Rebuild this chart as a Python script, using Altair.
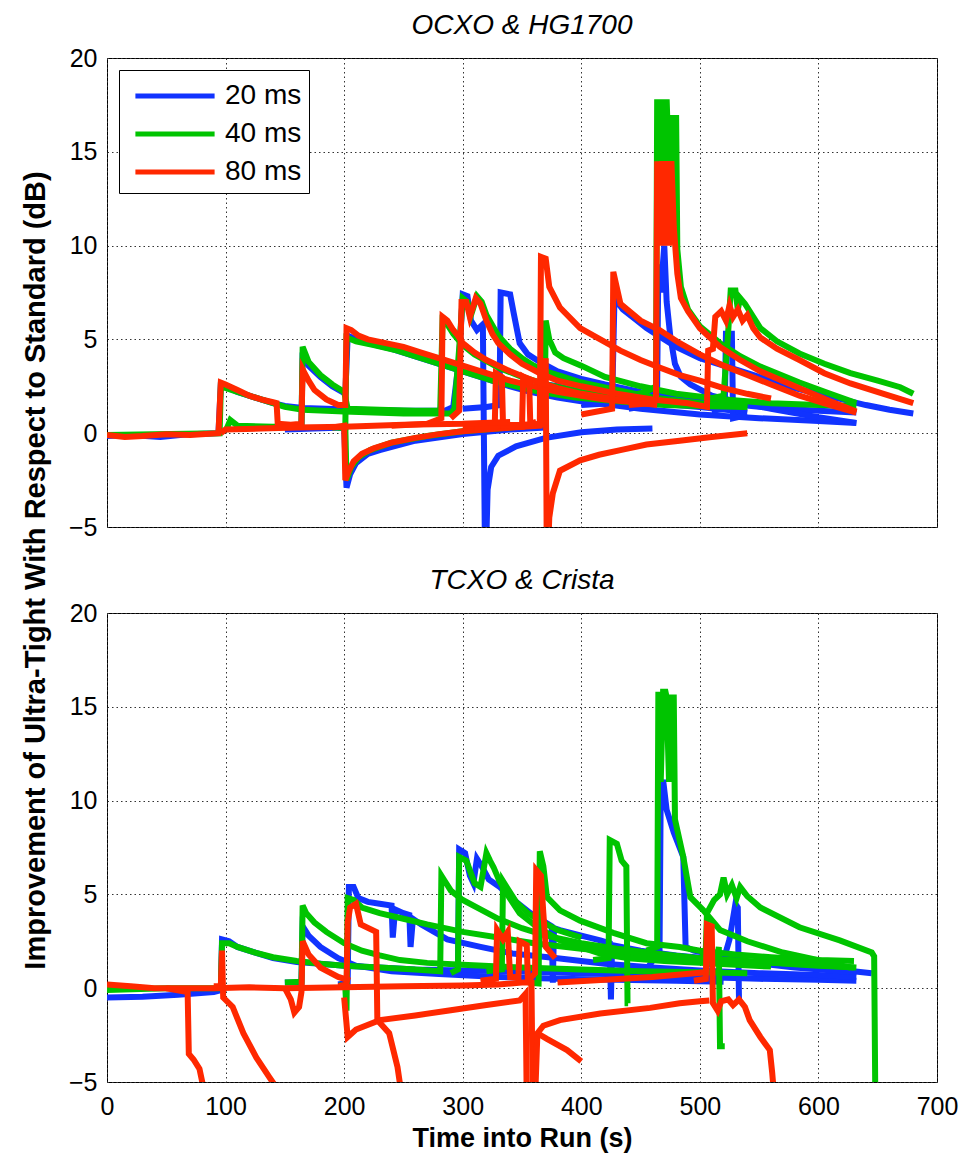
import altair as alt
import pandas as pd

FONT = "Liberation Sans"
LABELS = ["20 ms", "40 ms", "80 ms"]
COLORS = ["#1133FF", "#00C400", "#FF2800"]
X_TICKS = [0, 100, 200, 300, 400, 500, 600, 700]
Y_TICKS = [-5, 0, 5, 10, 15, 20]

# ---------------- Top panel: OCXO & HG1700 ----------------
TOP_20_A = [(0,-0.15),(20,-0.1),(45,-0.2),(70,-0.05),(94,0.0),(96,2.6),(100,2.5),(110,2.2),(125,1.9),(140,1.6),(150,1.45),(165,1.35),(185,1.3),(210,1.25),(250,1.2),(285,1.2),(292,1.4),(297,4.0),(300,7.4),(304,7.3),(307,6.0),(312,5.5),(317,5.8),(319,-8.0),(321,-3.0),(324,-1.8),(330,-1.2),(345,-0.7),(370,-0.25),(400,0.05),(430,0.2),(460,0.25)]
TOP_20_B = [(150,0.3),(164,0.35),(165,4.3),(170,3.6),(180,3.0),(190,2.5),(201,2.1),(203,5.2),(210,5.0),(220,4.8),(240,4.5),(260,4.1),(280,3.7),(300,3.3),(320,2.9),(340,2.5),(357,2.2),(380,1.9),(400,1.7),(420,1.55),(450,1.3),(500,1.0),(550,0.8),(600,0.65),(632,0.55)]
TOP_20_C = [(150,0.2),(200,0.3),(202,-2.9),(205,-2.2),(210,-1.6),(220,-1.1),(230,-0.9),(260,-0.4),(300,-0.05),(340,0.2),(368,0.3),(370,2.6),(380,2.5),(400,2.2),(420,2.0),(450,1.7),(480,1.5),(500,1.4),(530,1.2),(540,1.1)]
TOP_20_D = [(300,1.3),(320,1.4),(331,1.5),(332,7.5),(340,7.4),(343,6.4),(348,4.8),(355,4.2),(365,3.8),(380,3.3),(400,2.9),(420,2.6),(450,2.2),(480,1.9),(520,1.6),(560,1.35),(600,1.2),(632,1.1)]
TOP_20_E = [(400,1.5),(426,1.6),(428,7.2),(435,6.6),(445,6.1),(455,5.6),(465,5.2),(480,4.6),(500,4.0),(520,3.6),(540,3.2),(560,2.8),(580,2.4),(600,2.1),(620,1.8),(640,1.5),(660,1.25),(680,1.05)]
TOP_20_F = [(440,1.3),(458,1.5),(464,2.5),(465,9.0),(467,7.5),(470,10.0),(472,7.0),(475,5.2),(479,3.7),(484,3.0),(492,2.6),(510,2.0),(530,1.7),(560,1.3),(600,0.85),(632,0.55)]
TOP_20_G = [(510,1.2),(521,1.3),(522,5.3),(527,5.3),(528,0.8),(535,0.9),(540,1.0)]

TOP_40_A = [(0,-0.1),(40,-0.05),(95,0.0),(96,2.5),(110,2.2),(130,1.8),(150,1.4),(165,1.25),(200,1.15),(250,1.05),(290,1.05),(293,1.3),(297,4.5),(300,7.2),(304,7.0),(307,6.3),(312,7.3),(316,7.0),(320,6.3),(330,5.2),(340,4.5),(350,4.0),(360,3.6),(370,3.3),(385,3.0),(400,2.7),(430,2.3),(460,1.9),(500,1.6),(540,1.4)]
TOP_40_B = [(100,0.1),(104,0.7),(110,0.4),(140,0.35),(164,0.4),(165,4.6),(170,3.8),(180,3.1),(190,2.6),(200,2.2),(203,1.3),(230,1.25),(260,1.2),(281,1.2),(283,6.0),(287,5.8),(292,5.3),(300,4.7),(310,4.2),(330,3.5),(350,3.0),(370,2.6),(400,2.2),(430,1.9),(460,1.7),(500,1.55),(540,1.5)]
TOP_40_C = [(190,0.3),(201,0.3),(202,5.1),(210,4.9),(225,4.7),(245,4.4),(265,4.0),(285,3.6),(305,3.2),(325,2.8),(345,2.5),(365,2.2),(395,1.9),(430,1.7),(470,1.5),(500,1.45),(540,1.4)]
TOP_40_D = [(195,0.3),(201,0.3),(202,-2.5),(206,-1.8),(212,-1.3),(222,-0.9),(240,-0.5),(270,-0.15),(300,0.1),(340,0.3),(369,0.5),(370,6.0),(373,5.0),(378,4.3),(385,4.0),(400,3.6),(420,3.0),(450,2.5),(480,2.1),(520,1.8),(560,1.6),(600,1.5),(632,1.45)]
TOP_40_E = [(440,2.0),(455,2.2),(463,2.5),(464,17.8),(466,12.5),(468,17.8),(470,12.5),(472,17.8),(472.5,16.8),(475,11.0),(477,16.8),(480,16.8),(481,9.8),(484,7.8),(490,6.6),(500,5.7),(517,4.8),(534,4.1),(551,3.55),(584,2.7),(610,2.1),(632,1.6)]
TOP_40_F = [(505,1.8),(520,2.0),(524,5.5),(526,7.6),(530,7.6),(532,6.6),(534,7.2),(538,6.9),(545,6.2),(551,5.6),(565,4.9),(584,4.25),(605,3.7),(627,3.2),(650,2.8),(669,2.45),(680,2.1)]

TOP_80_A = [(0,-0.1),(15,-0.2),(30,-0.15),(50,-0.05),(70,-0.1),(94,0.0),(96,2.7),(100,2.6),(110,2.3),(120,2.0),(130,1.8),(140,1.65),(143,1.6),(144,0.5),(155,0.45),(164,0.5),(165,3.4),(170,2.8),(175,2.3),(185,1.8),(195,1.5),(201,1.5),(202,5.6),(206,5.5),(212,5.2),(220,5.0),(235,4.8),(250,4.6),(265,4.3),(280,4.0),(300,3.6),(320,3.2),(340,2.8),(360,2.5),(380,2.2),(400,2.0),(420,1.8),(445,1.65),(464,1.5)]
TOP_80_B = [(190,0.3),(200,0.4),(201,-2.5),(204,-2.0),(208,-1.5),(215,-1.1),(225,-0.8),(240,-0.5),(260,-0.25),(280,-0.05),(300,0.1),(330,0.25),(365,0.4),(366,9.4),(370,9.3),(373,7.8),(382,6.7),(399,5.6),(416,5.0),(433,4.4),(450,3.9),(466,3.5),(483,3.1),(500,2.8),(520,2.4),(540,2.1),(560,1.85)]
TOP_80_C = [(300,0.4),(350,0.45),(369,0.5),(370,4.0),(371,-8.0),(373,-4.5),(376,-3.2),(382,-2.0),(399,-1.45),(415,-1.15),(433,-0.9),(455,-0.6),(483,-0.4),(510,-0.2),(540,0.0)]
TOP_80_D = [(240,0.4),(270,0.5),(282,0.8),(283,6.2),(287,6.0),(292,5.5),(296,5.2),(300,4.8),(310,4.3),(320,3.9),(340,3.3),(360,2.8),(380,2.4),(400,2.1),(430,1.8),(460,1.55)]
TOP_80_E = [(290,0.8),(297,1.2),(299,7.0),(303,7.0),(306,6.2),(311,7.2),(315,6.9),(320,6.0),(325,5.3),(330,4.8),(340,4.2),(350,3.7),(365,3.2),(380,2.8),(400,2.5),(430,2.1),(460,1.8),(490,1.6),(506,1.4),(507,4.4),(511,4.5),(513,6.2),(518,6.5),(522,6.0),(525,6.8),(528,6.2),(532,6.6),(536,6.0),(540,6.3),(545,5.6),(551,5.1),(565,4.5),(584,3.9),(605,3.2),(627,2.65),(655,2.1),(680,1.6)]
TOP_80_F = [(310,0.3),(327,0.3),(328,3.2),(333,3.0),(334,0.4),(350,0.35),(351,3.0),(356,2.8),(357,0.5),(362,0.6)]
TOP_80_G = [(400,1.0),(426,1.3),(427,8.6),(433,6.9),(450,6.0),(466,5.5),(483,4.8),(500,4.2),(520,3.6),(540,3.1),(560,2.6),(584,2.0),(610,1.5),(632,1.1)]
TOP_80_H = [(440,1.5),(460,1.6),(463,1.8),(464,14.5),(466,10.0),(468,14.5),(470,10.0),(472,14.5),(474,10.0),(476,14.5),(478,11.0),(481,8.5),(484,7.2),(490,6.5),(500,5.6),(517,4.6),(534,3.9),(551,3.3),(584,2.4),(610,1.7),(632,1.15)]
TOP_80_I = [(96,0.0),(100,0.2),(130,0.25),(160,0.3),(200,0.35),(250,0.45),(300,0.5),(340,0.6)]

# ---------------- Bottom panel: TCXO & Crista ----------------
BOT_20_A = [(0,-0.5),(30,-0.45),(60,-0.35),(90,-0.2),(96,-0.1),(97,2.6),(103,2.5),(110,2.2),(125,1.9),(140,1.6),(160,1.4),(180,1.3),(200,1.2),(230,1.1),(260,1.0),(300,0.95),(340,0.9),(400,0.8),(450,0.7),(500,0.6),(550,0.5),(600,0.45),(632,0.4)]
BOT_20_B = [(150,0.3),(164,0.3),(165,3.3),(170,2.8),(180,2.2),(195,1.6),(210,1.2),(240,0.9),(280,0.75),(330,0.6),(380,0.5),(430,0.45),(480,0.4),(520,0.35)]
BOT_20_C = [(195,0.2),(203,0.3),(204,5.4),(208,5.4),(212,4.8),(220,4.6),(230,4.5),(240,4.4),(241,2.7),(243,4.2),(250,4.0),(255,3.9),(256,2.2),(258,3.7),(265,3.4),(287,2.6),(315,2.2),(342,1.85),(380,1.6),(420,1.3),(460,1.1),(500,0.95),(550,0.8),(600,0.7),(632,0.6)]
BOT_20_D = [(290,0.9),(296,1.0),(297,7.4),(302,7.2),(306,6.0),(309,5.6),(312,6.9),(316,6.5),(322,5.8),(331,5.4),(345,4.6),(357,4.0),(370,3.5),(375,3.3),(376,0.3),(377,3.2),(382,3.1),(400,2.8),(416,2.55),(424,2.4),(425,-0.6),(426,2.3),(450,2.0),(480,1.75),(520,1.5),(560,1.3),(600,1.1),(645,0.8)]
BOT_20_E = [(455,1.0),(466,2.0),(467,10.5),(469,11.1),(472,9.5),(478,8.3),(486,7.0),(488,2.2),(495,2.0),(510,1.8),(540,1.4),(580,1.1),(620,0.9),(632,0.85)]
BOT_20_F = [(505,1.2),(520,1.5),(525,2.6),(530,4.5),(532,4.3),(533,-0.6),(535,-0.6)]

BOT_40_A = [(0,-0.1),(50,0.0),(96,0.0),(97,2.4),(103,2.4),(110,2.2),(125,1.9),(140,1.65),(160,1.45),(180,1.3),(200,1.2),(230,1.1),(260,1.0),(281,0.9),(282,6.0),(285,5.7),(290,5.2),(300,4.7),(315,4.2),(330,3.7),(350,3.2),(370,2.8),(400,2.4),(430,2.1),(470,1.8),(500,1.6),(540,1.45),(580,1.3),(610,1.2),(630,1.1)]
BOT_40_B = [(150,0.3),(164,0.35),(165,4.4),(168,4.0),(175,3.5),(185,3.0),(200,2.4),(215,2.0),(230,1.75),(247,1.5),(270,1.35),(300,1.25),(350,1.1),(400,1.0),(450,0.9),(500,0.85),(540,0.8)]
BOT_40_C = [(195,0.2),(201,0.0),(202,-1.2),(203,4.8),(208,4.7),(215,4.3),(230,4.0),(250,3.7),(270,3.4),(300,3.0),(330,2.7),(360,2.4),(400,2.1),(450,1.8),(480,1.65),(520,1.5),(560,1.35),(600,1.2),(632,1.1)]
BOT_40_D = [(290,0.8),(296,1.0),(297,7.0),(303,6.8),(310,5.6),(315,5.4),(320,7.2),(323,6.8),(326,6.45),(331,5.7),(337,5.05),(348,4.0),(363,3.25),(382,2.55),(416,1.85),(440,1.6),(470,1.45),(500,1.35),(530,1.25),(560,1.15)]
BOT_40_E = [(320,0.9),(333,1.0),(334,5.7),(338,5.3),(345,4.6),(355,4.0),(365,3.6),(380,3.1),(400,2.7)]
BOT_40_F = [(355,0.3),(364,0.25),(365,7.3),(368,6.5),(371,4.85),(382,4.15),(399,3.6),(427,2.95),(455,2.4),(483,2.2),(500,2.0),(530,1.8),(560,1.65),(600,1.5),(630,1.45)]
BOT_40_G = [(410,1.5),(423,1.6),(424,7.9),(430,7.7),(434,6.8),(438,6.5),(439,-0.8),(439.5,-0.8)]
BOT_40_H = [(455,2.0),(464,2.2),(465,15.8),(467,11.0),(469,15.8),(471,15.8),(472,15.5),(474,11.0),(476,15.5),(478,15.5),(479,9.0),(486,7.0),(492,4.85),(503,4.15),(517,3.1),(540,2.5),(570,1.9),(600,1.5),(627,1.1)]
BOT_40_I = [(500,1.8),(505,2.0),(506,4.0),(512,4.7),(517,5.0),(520,5.9),(523,5.0),(527,5.5),(531,4.8),(534,5.4),(540,4.9),(551,4.3),(584,3.25),(618,2.55),(645,1.9),(647,1.7),(648,-6.0)]
BOT_40_J = [(505,1.5),(515,1.8),(516,2.2),(517,-3.1),(521,-3.1)]

BOT_80_A = [(0,0.2),(20,0.1),(40,0.0),(68,0.0),(90,0.0),(120,0.05),(150,0.0),(200,0.05),(250,0.1),(300,0.15),(330,0.2),(350,0.3),(358,0.3),(359,-6.0)]
BOT_80_B = [(50,0.0),(68,-0.2),(69,-3.5),(73,-3.8),(78,-4.3),(82,-5.5)]
BOT_80_C = [(90,0.1),(96,0.1),(97,2.0),(98,-0.5),(106,-1.0),(115,-2.4),(126,-3.7),(137,-4.75),(145,-5.5)]
BOT_80_D = [(150,0.0),(155,-0.6),(158,-1.3),(162,-1.0),(164,-0.2),(165,2.5),(170,1.8),(180,1.1),(195,0.6),(205,0.4)]
BOT_80_E = [(195,0.1),(202,0.2),(203,3.5),(205,4.3),(210,4.5),(214,3.4),(227,3.0),(228,-1.7),(238,-2.4),(245,-4.2),(248,-5.5)]
BOT_80_F = [(200,-0.5),(203,-2.6),(210,-2.2),(230,-1.7),(260,-1.45),(287,-1.2),(320,-0.9),(348,-0.65),(353,-0.3),(354,-6.0)]
BOT_80_G = [(361,-6.0),(363,-2.4),(368,-2.0),(382,-1.7),(416,-1.35),(458,-1.05),(483,-0.8),(500,-0.7),(508,-0.65)]
BOT_80_H = [(363,-2.4),(371,-2.7),(388,-3.3),(400,-3.9)]
BOT_80_I = [(315,0.4),(328,0.5),(329,3.1),(334,2.6),(338,3.0),(340,0.6),(347,0.6),(348,2.5),(354,2.3),(355,0.4)]
BOT_80_J = [(355,0.4),(361,0.8),(362,6.3),(366,6.0),(368,4.0),(370,2.2),(378,1.6)]
BOT_80_K = [(495,0.4),(505,0.5),(506,3.4),(510,3.3),(511,-0.8),(515,-1.2),(518,-0.7),(524,-0.6),(528,-0.9),(533,-0.6),(538,-1.0),(542,-1.7),(551,-2.6),(559,-3.3),(561,-4.5),(563,-6.0)]
BOT_80_L = [(380,0.3),(420,0.45),(460,0.6),(505,0.85)]

PANELS = {
    "top": {
        "20 ms": [TOP_20_A, TOP_20_B, TOP_20_C, TOP_20_D, TOP_20_E, TOP_20_F, TOP_20_G],
        "40 ms": [TOP_40_A, TOP_40_B, TOP_40_C, TOP_40_D, TOP_40_E, TOP_40_F],
        "80 ms": [TOP_80_A, TOP_80_B, TOP_80_C, TOP_80_D, TOP_80_E, TOP_80_F, TOP_80_G, TOP_80_H, TOP_80_I],
    },
    "bottom": {
        "20 ms": [BOT_20_A, BOT_20_B, BOT_20_C, BOT_20_D, BOT_20_E, BOT_20_F],
        "40 ms": [BOT_40_A, BOT_40_B, BOT_40_C, BOT_40_D, BOT_40_E, BOT_40_F, BOT_40_G, BOT_40_H, BOT_40_I, BOT_40_J],
        "80 ms": [BOT_80_A, BOT_80_B, BOT_80_C, BOT_80_D, BOT_80_E, BOT_80_F, BOT_80_G, BOT_80_H, BOT_80_I, BOT_80_J, BOT_80_K, BOT_80_L],
    },
}


def frame_for(panel):
    rows = []
    for ms, segs in PANELS[panel].items():
        for si, seg in enumerate(segs):
            for i, (t, v) in enumerate(seg):
                rows.append({"ms": ms, "seg": f"{ms}-{si}", "i": i, "t": t, "v": v})
    return pd.DataFrame(rows)


GRID = dict(grid=True, gridDash=[1.5, 3], gridColor="#333333", gridOpacity=1, gridWidth=1,
            ticks=False, domain=False)


def panel(name, title, bottom):
    df = frame_for(name)
    if bottom:
        xaxis = alt.Axis(values=X_TICKS, labels=True, labelFont=FONT, labelFontSize=25, labelColor="black",
                         labelPadding=12, labelFlush=False, labelOverlap=False, format="d",
                         title="Time into Run (s)", titleFont=FONT, titleFontSize=27, titleFontWeight="bold",
                         titleColor="black", titlePadding=6, **GRID)
        yaxis = alt.Axis(values=Y_TICKS, labelFont=FONT, labelFontSize=25, labelColor="black",
                         labelPadding=10, labelOverlap=False, title=None, **GRID)
        legend = None
    else:
        xaxis = alt.Axis(values=X_TICKS, labels=False, title=None, **GRID)
        yaxis = alt.Axis(values=Y_TICKS, labelFont=FONT, labelFontSize=25, labelColor="black",
                         labelPadding=10, labelOverlap=False,
                         title="Improvement of Ultra-Tight With Respect to Standard (dB)",
                         titleFont=FONT, titleFontSize=29, titleFontWeight="bold", titleColor="black",
                         titleX=-72, titleY=512, titleAngle=270, titleAlign="center",
                         titleBaseline="middle", **GRID)
        legend = alt.Legend(title=None, orient="none", legendX=12, legendY=12,
                            fillColor="white", strokeColor="black", padding=7,
                            labelFont=FONT, labelFontSize=28, labelColor="black",
                            symbolType="M-2.4,0L2.4,0", symbolSize=1089, symbolStrokeWidth=5,
                            symbolOffset=30, labelOffset=31, rowPadding=5)
    layers = []
    for ms in LABELS:
        sub = df[df["ms"] == ms]
        color = alt.Color("ms:N", scale=alt.Scale(domain=LABELS, range=COLORS),
                          legend=legend)
        layers.append(
            alt.Chart(sub).mark_line(clip=True, strokeWidth=6).encode(
                x=alt.X("t:Q", scale=alt.Scale(domain=[0, 700], nice=False, zero=False), axis=xaxis),
                y=alt.Y("v:Q", scale=alt.Scale(domain=[-5, 20], nice=False, zero=False), axis=yaxis),
                color=color,
                detail="seg:N",
                order="i:Q",
            )
        )
    return alt.layer(*layers).properties(
        width=830, height=469,
        title=alt.TitleParams(title, font=FONT, fontSize=28, fontStyle="italic", fontWeight="normal",
                              color="black", anchor="middle", frame="group", offset=6),
    )


top = panel("top", "OCXO & HG1700", False)
bot = panel("bottom", "TCXO & Crista", True)

chart = alt.vconcat(top, bot, spacing=86, bounds="flush").resolve_scale(
    color="independent").resolve_legend(color="independent").properties(
    padding={"left": 12, "top": 3, "right": 5, "bottom": 5}
).configure_view(stroke="black", strokeWidth=1)

chart.save("out.html", embed_options={"renderer": "svg", "actions": False})
